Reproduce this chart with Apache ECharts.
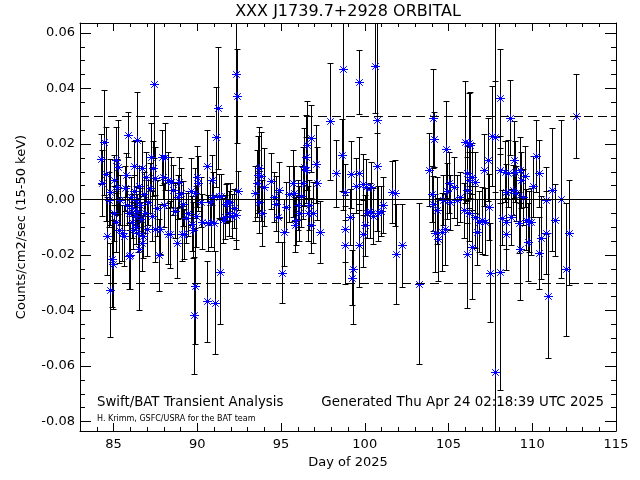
<!DOCTYPE html>
<html><head><meta charset="utf-8">
<script src="https://cdn.jsdelivr.net/npm/echarts@6/dist/echarts.min.js"></script>
<style>html,body{margin:0;padding:0;background:#fff}#c{width:640px;height:480px}</style>
</head><body><div id="c"></div>
<script>
const titleText = 'XXX J1739.7+2928 ORBITAL';
const xTitle = 'Day of 2025';
const yTitle = 'Counts/cm2/sec (15-50 keV)';
const leftNote = 'Swift/BAT Transient Analysis';
const creditNote = 'H. Krimm, GSFC/USRA for the BAT team';
const genNote = 'Generated Thu Apr 24 02:18:39 UTC 2025';

const xMajor = [85, 90, 95, 100, 105, 110, 115];
const xMinor = [84, 86, 87, 88, 89, 91, 92, 93, 94, 96, 97, 98, 99, 101, 102, 103, 104, 106, 107, 108, 109, 111, 112, 113, 114];
const yMajor = [-0.08, -0.06, -0.04, -0.02, 0.00, 0.02, 0.04, 0.06];
const yMinor = [-0.075, -0.07, -0.065, -0.055, -0.05, -0.045, -0.035, -0.03, -0.025, -0.015, -0.01, -0.005,
                0.005, 0.01, 0.015, 0.025, 0.03, 0.035, 0.045, 0.05, 0.055];
const refLevels = [0.0307, -0.0307];

const days = [
 84.25,84.30,84.42,84.55,84.62,84.72,84.80,84.82,84.93,84.99,85.00,85.05,85.12,85.12,85.20,85.26,85.32,85.40,85.52,85.60,
 85.66,85.72,85.80,85.87,85.90,85.95,86.00,86.02,86.08,86.12,86.15,86.20,86.25,86.28,86.32,86.35,86.40,86.42,86.48,86.52,
 86.55,86.60,86.65,86.71,86.70,86.78,86.82,86.88,86.95,86.99,87.05,87.15,87.24,87.30,87.36,87.43,87.45,87.49,87.60,87.74,
 87.80,87.87,87.94,88.00,88.10,88.23,88.25,88.36,88.41,88.58,88.70,88.77,88.84,88.89,89.02,89.07,89.17,89.20,89.31,89.47,
 89.60,89.67,89.77,89.80,89.85,89.85,89.92,89.99,90.07,90.20,90.26,90.56,90.60,90.65,90.76,90.80,90.86,90.96,91.00,91.06,
 91.12,91.26,91.30,91.36,91.40,91.53,91.65,91.70,91.80,91.90,91.98,92.05,92.20,92.30,92.34,92.36,92.44,
 93.42,93.55,93.60,93.70,93.70,93.80,93.85,94.00,94.42,94.60,94.70,94.80,94.90,95.07,95.15,95.30,95.50,95.70,95.80,95.85,
 95.90,96.00,96.10,96.20,96.30,96.40,96.50,96.50,96.58,96.60,96.70,96.78,96.80,96.90,97.07,97.13,97.33,97.90,98.28,98.67,
 98.70,98.80,98.80,98.80,99.10,99.20,99.25,99.30,99.50,99.65,99.65,99.65,99.90,99.90,100.00,100.10,100.15,100.30,100.40,100.50,
 100.64,100.76,100.76,100.80,100.95,101.10,101.60,101.80,101.85,102.20,103.25,
 103.85,104.00,104.05,104.13,104.10,104.20,104.30,104.40,104.60,104.70,104.80,104.84,104.90,105.00,105.10,105.30,105.50,105.70,105.90,106.00,
 106.10,106.10,106.10,106.20,106.20,106.20,106.30,106.40,106.40,106.60,106.60,106.70,106.80,107.00,107.10,107.20,107.35,107.40,107.45,107.57,
 107.76,107.80,108.06,108.05,108.10,108.20,108.35,108.45,108.45,108.45,108.55,108.65,108.75,108.85,108.92,108.95,109.05,109.20,109.25,109.25,
 109.35,109.45,109.55,109.65,109.75,109.80,109.95,110.05,110.24,110.40,110.42,110.50,110.80,110.85,110.95,111.15,111.35,111.73,112.00,112.17,
 112.63
];
const rates = [
 0.0146,0.0060,0.0206,0.0092,-0.0131,0.0000,-0.0327,0.0027,-0.0216,-0.0234,0.0070,-0.0050,0.0142,-0.0080,0.0045,0.0118,-0.0110,0.0000,-0.0120,-0.0130,
 0.0040,0.0088,-0.0020,0.0234,-0.0204,-0.0050,-0.0201,0.0010,-0.0080,-0.0030,-0.0110,0.0030,0.0121,-0.0060,-0.0100,0.0000,0.0216,-0.0040,-0.0120,0.0050,
 -0.0177,-0.0020,-0.0070,0.0112,-0.0156,-0.0130,0.0020,-0.0050,0.0080,-0.0105,-0.0010,0.0040,0.0154,-0.0060,0.0112,0.0418,0.0078,-0.0105,-0.0030,-0.0201,
 -0.0105,0.0152,0.0082,-0.0020,0.0154,-0.0123,0.0070,-0.0126,0.0063,0.0034,-0.0040,-0.0156,0.0009,0.0063,0.0024,-0.0123,-0.0015,-0.0123,-0.0068,-0.0050,
 0.0030,-0.0087,-0.0110,-0.0417,-0.0311,0.0024,-0.0060,0.0082,0.0058,-0.0009,-0.0080,0.0121,-0.0367,-0.0084,-0.0010,-0.0080,0.0070,0.0009,-0.0084,-0.0372,
 0.0224,0.0331,0.0012,-0.0260,0.0012,-0.0075,-0.0063,-0.0015,-0.0010,-0.0050,-0.0009,-0.0060,-0.0032,-0.0057,0.0452,0.0374,0.0031,
 0.0022,0.0058,0.0090,0.0112,-0.0009,0.0084,-0.0048,0.0045,0.0067,0.0010,-0.0015,-0.0063,0.0034,-0.0263,-0.0118,-0.0027,0.0020,0.0058,0.0022,-0.0090,
 -0.0075,-0.0020,-0.0050,0.0012,0.0060,0.0118,0.0154,0.0106,0.0196,-0.0050,-0.0020,0.0220,-0.0093,-0.0048,0.0127,0.0058,-0.0117,0.0282,0.0094,0.0160,
 0.0472,0.0027,-0.0105,-0.0165,-0.0063,0.0091,-0.0281,-0.0249,0.0050,0.0424,0.0094,-0.0165,0.0055,-0.0123,-0.0093,0.0045,-0.0050,-0.0040,0.0045,-0.0060,
 0.0480,0.0286,0.0121,-0.0050,-0.0040,-0.0020,0.0027,0.0024,-0.0195,-0.0165,-0.0303,
 0.0108,0.0020,0.0292,0.0217,-0.0015,-0.0120,-0.0039,-0.0144,-0.0117,0.0000,-0.0105,0.0181,0.0030,0.0060,-0.0010,0.0045,0.0000,0.0010,-0.0039,0.0208,
 0.0094,0.0034,-0.0195,0.0204,0.0070,-0.0050,0.0196,0.0082,-0.0170,0.0063,-0.0063,-0.0117,-0.0080,-0.0075,0.0106,-0.0080,0.0144,-0.0027,-0.0263,0.0228,
 0.0226,-0.0621,0.0364,-0.0260,0.0108,-0.0065,0.0100,0.0027,-0.0080,-0.0125,0.0094,0.0294,-0.0063,0.0034,0.0144,0.0100,0.0022,-0.0084,0.0106,-0.0177,
 0.0070,0.0009,0.0084,-0.0072,-0.0153,-0.0080,-0.0080,0.0048,0.0156,-0.0192,0.0094,-0.0137,-0.0003,-0.0120,-0.0347,0.0036,-0.0075,0.0003,-0.0252,-0.0119,
 0.0301
];
const errs = [
 0.009,0.012,0.019,0.017,0.014,0.010,0.017,0.012,0.017,0.016,0.009,0.010,0.012,0.011,0.010,0.017,0.012,0.009,0.010,0.011,
 0.008,0.008,0.007,0.008,0.012,0.006,0.012,0.007,0.006,0.005,0.007,0.006,0.009,0.005,0.006,0.005,0.017,0.006,0.007,0.007,
 0.022,0.006,0.006,0.010,0.010,0.008,0.008,0.007,0.009,0.010,0.008,0.009,0.012,0.009,0.010,0.027,0.011,0.012,0.010,0.013,
 0.009,0.010,0.008,0.008,0.012,0.011,0.010,0.012,0.009,0.009,0.010,0.0125,0.008,0.009,0.009,0.010,0.008,0.009,0.009,0.008,
 0.012,0.010,0.010,0.021,0.021,0.009,0.011,0.011,0.010,0.009,0.010,0.013,0.0145,0.010,0.008,0.009,0.009,0.009,0.010,0.0185,
 0.018,0.022,0.008,0.019,0.008,0.008,0.008,0.007,0.007,0.008,0.007,0.008,0.007,0.009,0.063,0.017,0.007,
 0.010,0.012,0.014,0.015,0.011,0.016,0.012,0.014,0.010,0.009,0.010,0.009,0.010,0.011,0.012,0.009,0.010,0.012,0.010,0.010,
 0.009,0.009,0.010,0.011,0.013,0.014,0.015,0.012,0.016,0.010,0.009,0.012,0.010,0.011,0.014,0.013,0.011,0.021,0.012,0.013,
 0.051,0.010,0.012,0.014,0.010,0.012,0.010,0.020,0.010,0.0115,0.013,0.015,0.011,0.012,0.011,0.010,0.009,0.010,0.009,0.010,
 0.017,0.040,0.012,0.010,0.009,0.010,0.011,0.012,0.018,0.015,0.029,
 0.013,0.010,0.018,0.010,0.010,0.014,0.012,0.015,0.014,0.009,0.013,0.0175,0.010,0.011,0.010,0.011,0.009,0.009,0.010,0.022,
 0.010,0.012,0.0195,0.018,0.010,0.010,0.019,0.012,0.019,0.011,0.011,0.012,0.011,0.012,0.013,0.012,0.015,0.012,0.018,0.018,
 0.020,0.130,0.018,0.0425,0.012,0.010,0.011,0.010,0.010,0.013,0.012,0.0135,0.010,0.009,0.014,0.011,0.010,0.011,0.012,0.0185,
 0.010,0.010,0.011,0.011,0.014,0.011,0.012,0.011,0.013,0.013,0.012,0.015,0.012,0.015,0.0225,0.022,0.013,0.0285,0.024,0.019,
 0.015
];

const points = days.map((d, i) => [d, rates[i], errs[i]]);

const X_MIN = 83, X_MAX = 115, Y_MIN = -0.0834, Y_MAX = 0.0636;
const FONT = 'DejaVu Sans';
const blk = '#000000';

function xAx(pos, ticks, len, line, labels) {
  return {
    type: 'value', min: X_MIN, max: X_MAX, position: pos, gridIndex: 0,
    axisLine: {show: line, onZero: false, lineStyle: {color: blk, width: 1}},
    axisTick: {show: true, inside: true, length: len, customValues: ticks, lineStyle: {color: blk, width: 1}},
    axisLabel: labels ? {show: true, customValues: xMajor, color: blk, fontFamily: FONT, fontSize: 13, margin: 7,
                         formatter: v => String(Math.round(v))} : {show: false},
    splitLine: {show: false},
    name: labels ? xTitle : '', nameLocation: 'middle', nameGap: 24,
    nameTextStyle: {color: blk, fontFamily: FONT, fontSize: 13}
  };
}
function yAx(pos, ticks, len, line, labels) {
  return {
    type: 'value', min: Y_MIN, max: Y_MAX, position: pos, gridIndex: 0,
    axisLine: {show: line, onZero: false, lineStyle: {color: blk, width: 1}},
    axisTick: {show: true, inside: true, length: len, customValues: ticks, lineStyle: {color: blk, width: 1}},
    axisLabel: labels ? {show: true, customValues: yMajor, color: blk, fontFamily: FONT, fontSize: 13, margin: 5,
                         formatter: v => (Math.abs(v) < 1e-9 ? 0 : v).toFixed(2)} : {show: false},
    splitLine: {show: false},
    name: labels ? yTitle : '', nameLocation: 'middle', nameGap: 52,
    nameTextStyle: {color: blk, fontFamily: FONT, fontSize: 13}
  };
}

const chart = echarts.init(document.getElementById('c'), null, {renderer: 'canvas'});
chart.setOption({
  backgroundColor: '#ffffff',
  animation: false,
  grid: {left: 80, right: 24, top: 23, bottom: 49, containLabel: false},
  xAxis: [
    xAx('bottom', xMajor, 8, true, true),
    xAx('bottom', xMinor, 4, false, false),
    xAx('top', xMajor, 8, true, false),
    xAx('top', xMinor, 4, false, false)
  ],
  yAxis: [
    yAx('left', yMajor, 11, true, true),
    yAx('left', yMinor, 5, false, false),
    yAx('right', yMajor, 11, true, false),
    yAx('right', yMinor, 5, false, false)
  ],
  graphic: [
    {type: 'text', x: 348, y: 12, style: {text: titleText, textAlign: 'center', textVerticalAlign: 'middle', fill: blk, font: '16px "DejaVu Sans"'}},
    {type: 'text', x: 97, y: 403, style: {text: leftNote, textAlign: 'left', textVerticalAlign: 'middle', fill: blk, font: '13.3px "DejaVu Sans"'}},
    {type: 'text', x: 97, y: 419, style: {text: creditNote, textAlign: 'left', textVerticalAlign: 'middle', fill: blk, font: '8px "DejaVu Sans"'}},
    {type: 'text', x: 604, y: 403, style: {text: genNote, textAlign: 'right', textVerticalAlign: 'middle', fill: blk, font: '13.4px "DejaVu Sans"'}}
  ],
  series: [
    {
      type: 'custom', xAxisIndex: 0, yAxisIndex: 0, clip: true, silent: true,
      data: points,
      renderItem: function (params, api) {
        const x = api.value(0), y = api.value(1), e = api.value(2);
        const t = api.coord([x, y + e]), b = api.coord([x, y - e]);
        const px = Math.round(t[0]) + 0.5;
        const ty = Math.round(t[1]) + 0.5, by = Math.round(b[1]) + 0.5;
        const hw = 3;
        const st = {stroke: blk, lineWidth: 1};
        return {type: 'group', children: [
          {type: 'line', shape: {x1: px, y1: ty, x2: px, y2: by}, style: st},
          {type: 'line', shape: {x1: px - hw, y1: ty, x2: px + hw, y2: ty}, style: st},
          {type: 'line', shape: {x1: px - hw, y1: by, x2: px + hw, y2: by}, style: st}
        ]};
      },
      markLine: {
        silent: true, symbol: 'none', label: {show: false}, animation: false,
        data: [
          {yAxis: 0, lineStyle: {color: blk, width: 1, type: 'solid'}},
          {yAxis: refLevels[0], lineStyle: {color: blk, width: 1, type: [9, 5]}},
          {yAxis: refLevels[1], lineStyle: {color: blk, width: 1, type: [9, 5]}}
        ]
      }
    },
    {
      type: 'custom', xAxisIndex: 0, yAxisIndex: 0, clip: true, silent: true,
      data: points,
      renderItem: function (params, api) {
        const c = api.coord([api.value(0), api.value(1)]);
        const cx = Math.round(c[0]) + 0.5, cy = Math.round(c[1]) + 0.5;
        const r = 4.5, d = 3.3;
        const st = {stroke: '#0000ff', lineWidth: 1};
        return {type: 'group', children: [
          {type: 'line', shape: {x1: cx - r, y1: cy, x2: cx + r, y2: cy}, style: st},
          {type: 'line', shape: {x1: cx, y1: cy - r, x2: cx, y2: cy + r}, style: st},
          {type: 'line', shape: {x1: cx - d, y1: cy - d, x2: cx + d, y2: cy + d}, style: st},
          {type: 'line', shape: {x1: cx - d, y1: cy + d, x2: cx + d, y2: cy - d}, style: st}
        ]};
      }
    }
  ]
});
</script>
</body></html>
